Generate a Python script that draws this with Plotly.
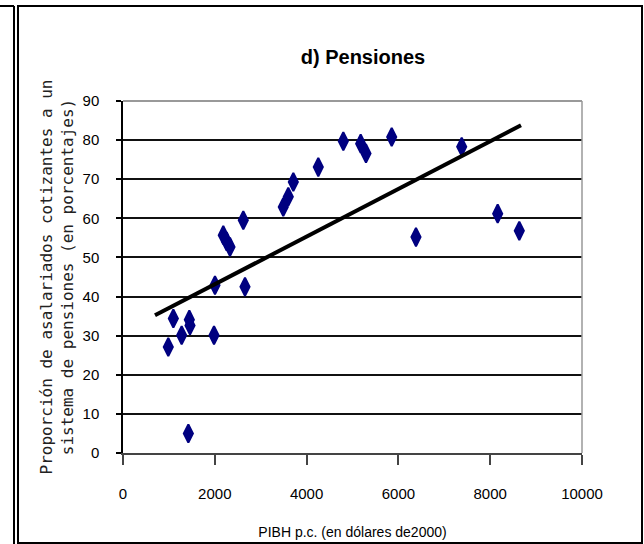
import plotly.graph_objects as go

# Data
pib_pc = [987, 1097, 1278, 1445, 1460, 1424, 1983, 2004, 2185, 2258, 2331, 2621, 2658,
          3492, 3601, 3711, 4255, 4800, 5178, 5294, 5854, 6383, 7379, 8163, 8634]
cotizantes = [27.1, 34.4, 30.1, 34.1, 32.6, 5.0, 30.1, 42.9, 55.7, 54.1, 52.7, 59.5, 42.5,
              62.9, 65.5, 69.3, 73.1, 79.7, 79.1, 76.6, 80.8, 55.2, 78.3, 61.2, 56.8]
trend_x = [697, 8671]
trend_y = [35.2, 83.8]

x_ticks = [0, 2000, 4000, 6000, 8000, 10000]
y_ticks = [0, 10, 20, 30, 40, 50, 60, 70, 80, 90]

W, H = 644, 544
L, R, T, B = 123, 62, 101, 91
PW, PH = W - L - R, H - T - B


def px(x):
    return (x - L) / PW


def py(y):
    return (H - B - y) / PH


fig = go.Figure()
fig.add_trace(go.Scatter(
    x=pib_pc, y=cotizantes, mode="markers",
    marker=dict(symbol="diamond-tall", size=13, color="#000080",
                line=dict(width=2, color="#000080")),
    showlegend=False, hoverinfo="x+y"))
fig.add_trace(go.Scatter(
    x=trend_x, y=trend_y, mode="lines",
    line=dict(color="black", width=4), showlegend=False))

tick_font = dict(family="Liberation Sans, Arial, sans-serif", size=15, color="black")

fig.update_layout(
    width=W, height=H,
    margin=dict(l=L, r=R, t=T, b=B, autoexpand=False),
    paper_bgcolor="white", plot_bgcolor="white",
    title=dict(text="<b>d) Pensiones</b>", xref="container", x=363 / W, xanchor="center",
               yref="container", y=1 - 57 / H, yanchor="middle",
               font=dict(family="Liberation Sans Narrow, Arial Narrow, Liberation Sans, sans-serif",
                         size=20, color="black")),
    xaxis=dict(range=[0, 10000], tickvals=x_ticks, ticktext=[str(v) for v in x_ticks],
               showgrid=False, zeroline=False, showline=True, linecolor="#444", linewidth=2,
               ticks="outside", ticklen=10, tickcolor="#444", tickwidth=1.5,
               tickfont=tick_font, ticklabelstandoff=16, automargin=False,
               title=dict(text="PIBH p.c. (en dólares de2000)", standoff=26,
                          font=dict(family="Liberation Sans, Arial, sans-serif", size=14, color="black"))),
    yaxis=dict(range=[0, 90], tickvals=y_ticks, ticktext=[str(v) for v in y_ticks],
               showgrid=True, gridcolor="#111", gridwidth=1.5,
               zeroline=False, showline=True, linecolor="black", linewidth=1.5,
               ticks="outside", ticklen=5, tickcolor="black", tickwidth=1.5,
               tickfont=tick_font, ticklabelstandoff=14, automargin=False,
               title=dict(text="Proporción de asalariados cotizantes a un<br>sistema de pensiones (en porcentajes)",
                          standoff=5,
                          font=dict(family="DejaVu Sans Mono, monospace", size=16, color="#222"))),
)

shapes = [
    # grey plot border (top & right)
    dict(type="line", xref="paper", yref="paper", x0=0, x1=1, y0=1, y1=1,
         line=dict(color="#999", width=2), layer="above"),
    dict(type="line", xref="paper", yref="paper", x0=1, x1=1, y0=0, y1=1,
         line=dict(color="#999", width=1.5), layer="above"),
    # outer chart frame
    dict(type="rect", xref="paper", yref="paper", x0=px(18), x1=px(642), y0=py(543), y1=py(6),
         line=dict(color="black", width=2)),
    # neighbouring panel edge on the left
    dict(type="line", xref="paper", yref="paper", x0=px(14), x1=px(14), y0=py(544), y1=py(6),
         line=dict(color="black", width=2)),
    dict(type="line", xref="paper", yref="paper", x0=px(0), x1=px(14), y0=py(6), y1=py(6),
         line=dict(color="black", width=2)),
]
fig.update_layout(shapes=shapes)

fig.write_html("out.html", config={"displayModeBar": False},
               post_script="document.body.style.margin='0';document.body.style.overflow='hidden';")
